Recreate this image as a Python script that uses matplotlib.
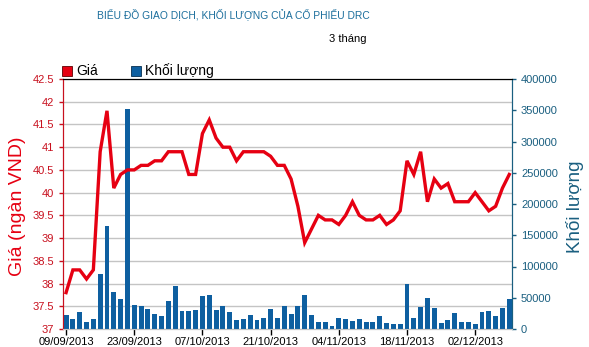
import matplotlib
matplotlib.use("Agg")
import matplotlib.pyplot as plt
from matplotlib.patches import Rectangle

plt.rcParams['font.family'] = ['Liberation Sans', 'DejaVu Sans']

# gia dong cua (ngan VND), 66 phien tu 09/09/2013
gia = [37.8, 38.3, 38.3, 38.1, 38.3, 40.9, 41.8, 40.1, 40.4, 40.5,
       40.5, 40.6, 40.6, 40.7, 40.7, 40.9, 40.9, 40.9, 40.4, 40.4,
       41.3, 41.6, 41.2, 41.0, 41.0, 40.7, 40.9, 40.9, 40.9, 40.9,
       40.8, 40.6, 40.6, 40.3, 39.7, 38.9, 39.2, 39.5, 39.4, 39.4,
       39.3, 39.5, 39.8, 39.5, 39.4, 39.4, 39.5, 39.3, 39.4, 39.6,
       40.7, 40.4, 40.9, 39.8, 40.3, 40.1, 40.2, 39.8, 39.8, 39.8,
       40.0, 39.8, 39.6, 39.7, 40.1, 40.4]

khoi_luong = [22400, 16000, 27200, 11200, 16000, 88000, 164800, 59200, 48000, 352000,
              38400, 36800, 32000, 24000, 20800, 44800, 68800, 28800, 28800, 30400,
              52800, 54400, 30400, 36800, 27200, 14400, 16000, 22400, 14400, 17600,
              32000, 17600, 36800, 24000, 36800, 54400, 22400, 11200, 11200, 4800,
              17600, 16000, 12800, 16000, 11200, 11200, 20800, 9600, 8000, 8000,
              72000, 17600, 35700, 49600, 33600, 9600, 14400, 25600, 11200, 11200,
              8000, 27200, 28800, 20800, 33600, 48000]

tick_pos = [0, 10, 20, 30, 40, 50, 60]
tick_labels = ["09/09/2013", "23/09/2013", "07/10/2013", "21/10/2013",
               "04/11/2013", "18/11/2013", "02/12/2013"]

gia_ticks = [37, 37.5, 38, 38.5, 39, 39.5, 40, 40.5, 41, 41.5, 42, 42.5]
kl_ticks = [0, 50000, 100000, 150000, 200000, 250000, 300000, 350000, 400000]

red = '#e60012'
red_dark = '#c8101e'
blue = '#0e5fa0'
teal = '#1a5f80'

fig = plt.figure(figsize=(5.89, 3.47), dpi=100)
ax = fig.add_axes([63 / 589, 18 / 347, 449 / 589, 250 / 347])
ax2 = ax.twinx()

x = list(range(len(gia)))

ax.set_ylim(37, 42.5)
ax.set_yticks(gia_ticks)
ax.set_yticklabels([f"{t:g}" for t in gia_ticks])
ax.grid(axis='y', color='#c4c4c4', linewidth=1)
ax.set_axisbelow(True)
ax.tick_params(axis='y', colors=red_dark, labelsize=8, length=3, width=1)
ax.tick_params(axis='x', colors='black', labelsize=8, length=4, width=1, pad=2)
ax.set_xticks(tick_pos)
ax.set_xticklabels(tick_labels)
ax.set_xlim(-0.45, 65.4)

ax2.bar(x, khoi_luong, width=0.72, color=blue, zorder=2)
ax2.plot(x, gia, color=red, linewidth=2.4, zorder=3, transform=ax.transData,
         solid_joinstyle='miter')
ax2.set_ylim(0, 400000)
ax2.set_yticks(kl_ticks)
ax2.set_yticklabels([str(t) for t in kl_ticks])
ax2.tick_params(axis='y', colors=teal, labelsize=8, length=3, width=1)
ax2.set_xlim(-0.45, 65.4)

for a in (ax, ax2):
    a.spines['top'].set_color('black')
    a.spines['bottom'].set_color('#c4c4c4')
    a.spines['left'].set_color(red_dark)
    a.spines['right'].set_color(teal)

fig.text(18 / 589, 1 - 206 / 347, "Giá (ngàn VND)", color=red, fontsize=14,
         rotation=90, ha='center', va='center')
fig.text(575 / 589, 1 - 207 / 347, "Khối lượng", color=teal, fontsize=13.5,
         rotation=90, ha='center', va='center')

fig.text(233 / 589, 1 - 14 / 347, "BIỂU ĐỒ GIAO DỊCH, KHỐI LƯỢNG CỦA CỔ PHIẾU DRC",
         color='#1b6e9c', fontsize=7.4, ha='center', va='center')
fig.text(348 / 589, 1 - 39 / 347, "3 tháng", color='black', fontsize=8,
         ha='center', va='center')

# chu thich
fig.patches.append(Rectangle((62 / 589, 1 - 76 / 347), 10 / 589, 10 / 347,
                             transform=fig.transFigure, facecolor=red,
                             edgecolor='#600000', linewidth=0.6))
fig.text(76 / 589, 1 - 71 / 347, "Giá", fontsize=10, ha='left', va='center')
fig.patches.append(Rectangle((131 / 589, 1 - 76 / 347), 10 / 589, 10 / 347,
                             transform=fig.transFigure, facecolor=blue,
                             edgecolor='#062f50', linewidth=0.6))
fig.text(145 / 589, 1 - 71 / 347, "Khối lượng", fontsize=10, ha='left', va='center')

fig.savefig("out.png", dpi=100)
